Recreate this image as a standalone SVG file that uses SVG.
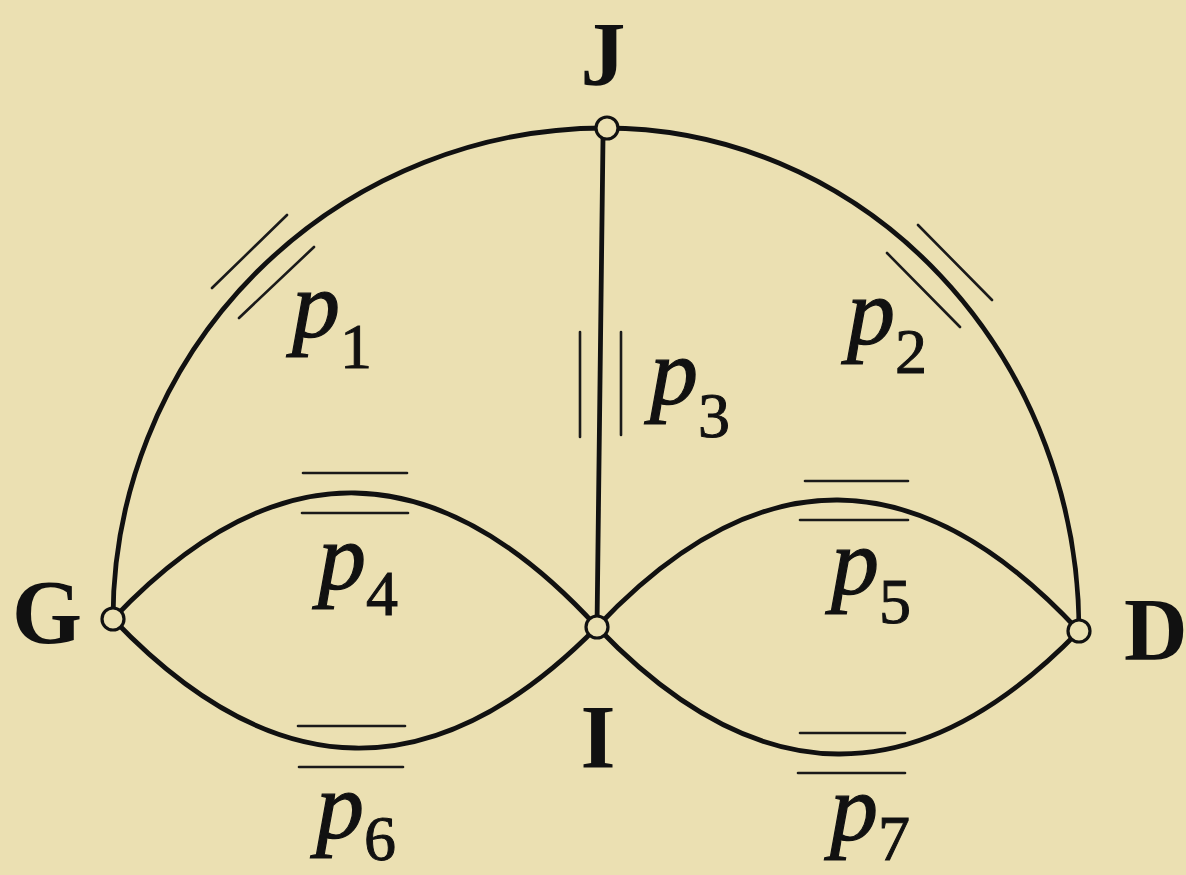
<svg xmlns="http://www.w3.org/2000/svg" width="1186" height="875" viewBox="0 0 1186 875">
<style>
.bg{fill:#ebe0b2}
.edge{fill:none;stroke:#111;stroke-width:4.8;stroke-linecap:round}
.tick{fill:none;stroke:#1a1a1a;stroke-width:2.6;stroke-linecap:round}
.node{fill:#ebe0b2;stroke:#111;stroke-width:3.2}
.lbl{font-family:"Liberation Serif",serif;font-weight:bold;font-size:90px;fill:#111}
.p{font-family:"Liberation Serif",serif;font-style:italic;font-size:96px;fill:#111;stroke:#111;stroke-width:1.2}
.sub{font-style:normal;font-size:64px;stroke-width:1}
</style>
<rect class="bg" x="0" y="0" width="1186" height="875"/>
<g id="connectors">
  <path class="edge" d="M113,619 A492,491 0 0 1 605,128 A474,503 0 0 1 1079,631"/>
  <path class="edge" d="M603,138 L597,627"/>
  <path class="edge" d="M113,619 Q355,363 597,627"/>
  <path class="edge" d="M113,619 Q355,873 597,627"/>
  <path class="edge" d="M597,627 Q838,371 1079,631"/>
  <path class="edge" d="M597,627 Q838,879 1079,631"/>
  <g id="ticks">
    <line class="tick" x1="212" y1="288" x2="287" y2="215"/>
    <line class="tick" x1="239" y1="318" x2="314" y2="247"/>
    <line class="tick" x1="918" y1="225" x2="992" y2="300"/>
    <line class="tick" x1="887" y1="253" x2="960" y2="327"/>
    <line class="tick" x1="580" y1="332" x2="580" y2="437"/>
    <line class="tick" x1="621" y1="332" x2="621" y2="435"/>
    <line class="tick" x1="303" y1="473" x2="407" y2="473"/>
    <line class="tick" x1="302" y1="513" x2="408" y2="513"/>
    <line class="tick" x1="298" y1="726" x2="405" y2="726"/>
    <line class="tick" x1="299" y1="767" x2="403" y2="767"/>
    <line class="tick" x1="805" y1="481" x2="908" y2="481"/>
    <line class="tick" x1="800" y1="520" x2="908" y2="520"/>
    <line class="tick" x1="800" y1="733" x2="905" y2="733"/>
    <line class="tick" x1="798" y1="773" x2="905" y2="773"/>
  </g>
  <g id="edge-labels">
    <text class="p" x="292" y="337">p<tspan class="sub" dy="31">1</tspan></text>
    <text class="p" x="847" y="344">p<tspan class="sub" dy="29">2</tspan></text>
    <text class="p" x="650" y="404">p<tspan class="sub" dy="33">3</tspan></text>
    <text class="p" x="318" y="589">p<tspan class="sub" dy="26">4</tspan></text>
    <text class="p" x="831" y="594">p<tspan class="sub" dy="29">5</tspan></text>
    <text class="p" x="316" y="838">p<tspan class="sub" dy="22">6</tspan></text>
    <text class="p" x="830" y="840">p<tspan class="sub" dy="20">7</tspan></text>
  </g>
</g>
<g id="node-J">
  <circle class="node" cx="607" cy="128" r="11"/>
  <text class="lbl" x="603" y="85" text-anchor="middle">J</text>
</g>
<g id="node-G">
  <circle class="node" cx="113" cy="619" r="11"/>
  <text class="lbl" x="12" y="643">G</text>
</g>
<g id="node-I">
  <circle class="node" cx="597" cy="627" r="11"/>
  <text class="lbl" x="598" y="768" text-anchor="middle">I</text>
</g>
<g id="node-D">
  <circle class="node" cx="1079" cy="631" r="11"/>
  <text class="lbl" x="1124" y="659" style="font-size:88px">D</text>
</g>
</svg>
